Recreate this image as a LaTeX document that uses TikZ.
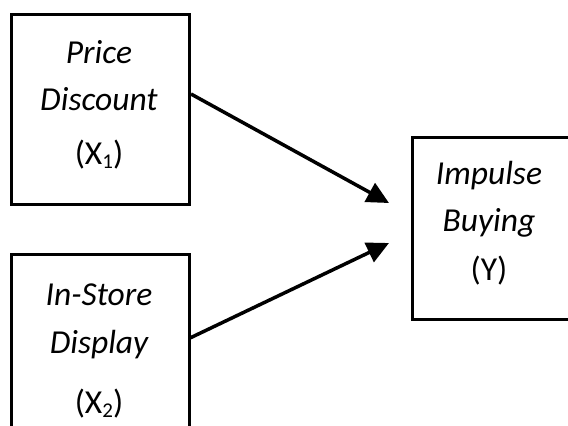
\documentclass[tikz,border=0pt]{standalone}
\usepackage{fontspec}
\setmainfont{Carlito}
\usetikzlibrary{arrows.meta}
\newcommand{\mysub}[1]{\raisebox{-4pt}{\fontsize{21}{21}\selectfont #1}}
\begin{document}
\begin{tikzpicture}[x=1pt,y=-1pt,
  box/.style={draw=black,line width=3pt,rectangle,inner sep=0pt,anchor=north west},
  txt/.style={anchor=base,inner sep=0pt,font=\fontsize{33.5}{38}\selectfont},
  conn/.style={line width=3.5pt,-{Triangle[length=22pt,width=21pt]}}]
\useasboundingbox (0,0) rectangle (568,426);
\clip (0,0) rectangle (568,426);
% boxes
\node[box,minimum width=178pt,minimum height=190pt] (b1) at (10,13) {};
\node[box,minimum width=178pt,minimum height=260pt] (b2) at (10,253) {};
\node[box,minimum width=220pt,minimum height=182pt] (b3) at (411,136) {};
% texts
\node[txt] (t11) at (99,63) {\itshape Price};
\node[txt] (t12) at (99,110) {\itshape Discount};
\node[txt] (t13) at (99,164) {(X\mysub{1})};
\node[txt] (t21) at (99,305) {\itshape In-Store};
\node[txt] (t22) at (99,353) {\itshape Display};
\begin{scope}
\clip (0,0) rectangle (568,419);
\node[txt] (t23) at (99,413) {(X\mysub{2})};
\end{scope}
\node[txt] (t31) at (489,184) {\itshape Impulse};
\node[txt] (t32) at (489,231) {\itshape Buying};
\node[txt] (t33) at (489,280) {(Y)};
% connectors
\path (b1.north east) ++(0,81) coordinate (s1);
\path (b2.north east) ++(-1,85) coordinate (s2);
\coordinate (e1) at (389,203);
\coordinate (e2) at (389,243);
\draw[conn] (s1) -- (e1);
\draw[conn] (s2) -- (e2);
\end{tikzpicture}
\end{document}
